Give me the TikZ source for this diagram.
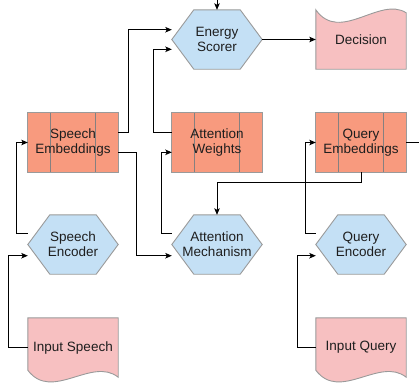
\documentclass[tikz,border=0pt]{standalone}
\usepackage{fontspec}
\setmainfont{Liberation Sans}
\usetikzlibrary{calc,backgrounds,arrows.meta}

\definecolor{hexblue}{HTML}{C4E0F5}
\definecolor{procsalmon}{HTML}{F89A7E}
\definecolor{docpink}{HTML}{F7C0C1}
\definecolor{edgegray}{HTML}{9A9A9A}
\definecolor{innergray}{HTML}{858080}
\definecolor{textdark}{HTML}{1E1E1E}

\tikzset{
  block/.style={rectangle, minimum width=90pt, minimum height=59pt, inner sep=0pt,
    align=center, text=textdark, font=\fontsize{13.5}{15}\selectfont},
  hexpaint/.style={fill=hexblue, draw=edgegray, line width=0.9pt, line join=miter},
  procpaint/.style={fill=procsalmon, draw=edgegray, line width=0.9pt},
  procline/.style={draw=innergray, line width=1pt},
  docpaint/.style={fill=docpink, draw=edgegray, line width=0.9pt},
  conn/.style={draw=black, line width=0.9pt,
    -{Stealth[length=6.5pt,width=5.5pt,inset=1.5pt]}}
}

% hexagon drawn over the bounding box of a node
\newcommand\hexbox[1]{%
  \path[hexpaint] (#1.west) -- ([xshift=22pt]#1.north west) -- ([xshift=-22pt]#1.north east)
    -- (#1.east) -- ([xshift=-22pt]#1.south east) -- ([xshift=22pt]#1.south west) -- cycle;}
% process box with two inner vertical bars
\newcommand\procbox[1]{%
  \path[procpaint] (#1.south west) rectangle (#1.north east);
  \draw[procline] ([xshift=22.5pt]#1.north west) -- ([xshift=22.5pt]#1.south west);
  \draw[procline] ([xshift=-22.5pt]#1.north east) -- ([xshift=-22.5pt]#1.south east);}
% document box with a wavy lower edge
\newcommand\docbox[1]{%
  \path[docpaint] (#1.north west) -- (#1.north east) -- (#1.south east)
    .. controls ($(#1.south west)+(64,-21)$) and ($(#1.south west)+(24,25)$)
    .. ($(#1.south west)+(0,-7)$) -- cycle;}

\begin{document}
\begin{tikzpicture}[x=1pt, y=-1pt]
\useasboundingbox (0,0) rectangle (419,389);
\clip (0,0) rectangle (419,389);

% nodes
\node[block] (energy)   at (217,39.5)  {Energy\\Scorer};
\node[block] (decision) at (361,39.5)  {Decision};
\node[block] (spemb)    at (73,142.5)  {Speech\\Embeddings};
\node[block] (attw)     at (217,142.5) {Attention\\Weights};
\node[block] (qemb)     at (361,142.5) {Query\\Embeddings};
\node[block] (spenc)    at (73,244.5)  {Speech\\Encoder};
\node[block] (attmech)  at (217,244.5) {Attention\\Mechanism};
\node[block] (qenc)     at (361,244.5) {Query\\Encoder};
\node[block] (inspeech) at (73,347.5)  {Input Speech};
\node[block] (inquery)  at (361,347.5) {Input Query};

% shapes behind the labels
\begin{pgfonlayer}{background}
  \hexbox{energy}
  \hexbox{spenc}
  \hexbox{attmech}
  \hexbox{qenc}
  \procbox{spemb}
  \procbox{attw}
  \procbox{qemb}
  \docbox{inspeech}
  \docbox{inquery}
  \path[docpaint] (decision.south west) -- (decision.north west)
    .. controls ($(decision.north west)+(24,34)$) and ($(decision.north west)+(64,-14)$)
    .. ($(decision.north east)+(0,3)$) -- (decision.south east) -- cycle;
\end{pgfonlayer}

% connectors
\draw[conn] (inspeech.west) -- ++(-19,0) |- ([yshift=-11.2pt]spenc.west);
\draw[conn] ([yshift=11.2pt]spenc.west) -- ++(-11,0) |- (spemb.west);
\draw[conn] ([yshift=9.8pt]spemb.east) -- ++(10.7,0) |- ([yshift=9.8pt]energy.west);
\draw[conn] ([yshift=-9.8pt]spemb.east) -- ++(18.7,0) |- ([yshift=-11.2pt]attmech.west);
\draw[conn] ([yshift=11.2pt]attmech.west) -- ++(-10.3,0) |- ([yshift=-9.8pt]attw.west);
\draw[conn] ([yshift=9.8pt]attw.west) -- ++(-18.7,0) |- ([yshift=-9.8pt]energy.west);
\draw[conn] (energy.east) -- (decision.west);
\draw[conn] (qemb.east) -- ++(25,0) |- ([yshift=20pt]energy.north) -- (energy.north);
\draw[conn] (qemb.south) -- ++(0,10.3) -| (attmech.north);
\draw[conn] ([yshift=11.2pt]qenc.west) -- ++(-10.3,0) |- (qemb.west);
\draw[conn] (inquery.west) -- ++(-18.3,0) |- ([yshift=-11.2pt]qenc.west);
\end{tikzpicture}
\end{document}
